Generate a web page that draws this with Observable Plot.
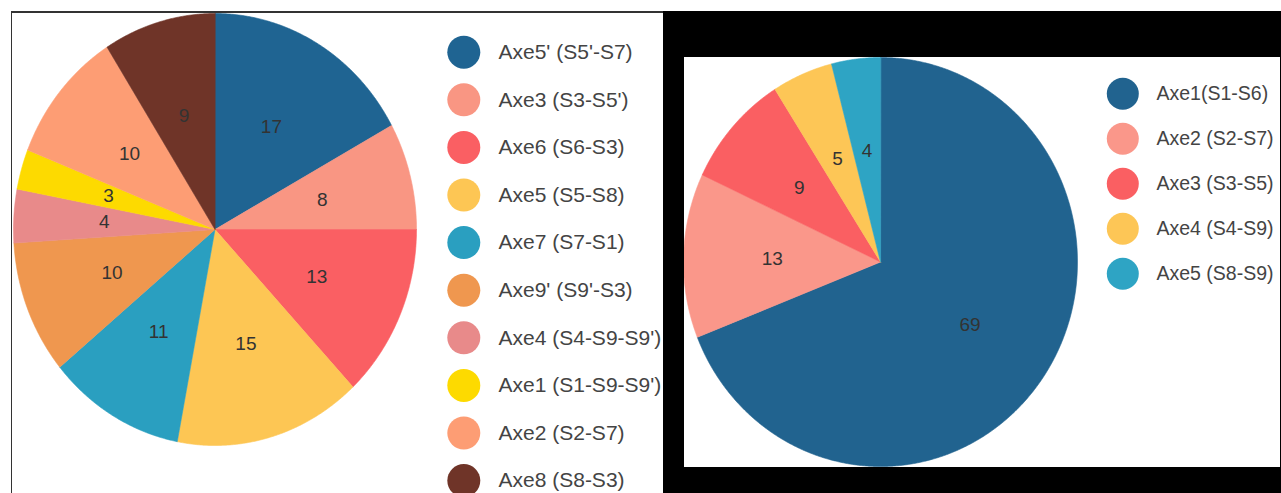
<!DOCTYPE html>
<html>
<head>
<meta charset="utf-8">
<script src="https://cdn.jsdelivr.net/npm/d3@7"></script>
<script src="https://cdn.jsdelivr.net/npm/@observablehq/plot@0.6"></script>
<style>
  html, body { margin: 0; padding: 0; background: #fff; }
  #root { position: relative; width: 1281px; height: 493px; background: #fff; overflow: hidden; font-family: "Liberation Sans", Arial, sans-serif; }
  #left { position: absolute; left: 11px; top: 12px; width: 652px; height: 481px; overflow: hidden; background: #fff; }
  #lborder-top { position: absolute; left: 11px; top: 11px; width: 652px; height: 1.5px; background: #333; }
  #lborder-left { position: absolute; left: 10.5px; top: 11px; width: 1.5px; height: 482px; background: #333; }
  #black { position: absolute; left: 663px; top: 11px; width: 618px; height: 482px; background: #000; }
  #right { position: absolute; left: 21px; top: 46px; width: 596px; height: 410px; overflow: hidden; background: #fff; }
  svg { display: block; }
</style>
</head>
<body>
<div id="root">
  <div id="left"></div>
  <div id="lborder-top"></div>
  <div id="lborder-left"></div>
  <div id="black"><div id="right"></div></div>
</div>
<script>
// ---- Left chart data ----
const leftNames = ["Axe5' (S5'-S7)", "Axe3 (S3-S5')", "Axe6 (S6-S3)", "Axe5 (S5-S8)", "Axe7 (S7-S1)", "Axe9' (S9'-S3)", "Axe4 (S4-S9-S9')", "Axe1 (S1-S9-S9')", "Axe2 (S2-S7)", "Axe8 (S8-S3)"];
const leftValues = [17, 8, 13, 15, 11, 10, 4, 3, 10, 9];
const leftColors = ["#1f6492", "#f99683", "#fa5f63", "#fdc654", "#2a9fc0", "#ef974f", "#e88a8a", "#fdda00", "#fd9d74", "#6f3428"];

// ---- Right chart data ----
const rightNames = ["Axe1(S1-S6)", "Axe2 (S2-S7)", "Axe3 (S3-S5)", "Axe4 (S4-S9)", "Axe5 (S8-S9)"];
const rightValues = [69, 13, 9, 5, 4];
const rightColors = ["#21638f", "#fa978a", "#fa5f62", "#fdc656", "#2ea4c4"];

function slices(names, values) {
  const arcs = d3.pie().sort(null).value((d, i) => values[i])(names);
  const pts = [];
  const labels = [];
  arcs.forEach((a, i) => {
    const name = names[i];
    pts.push({name, x: 0, y: 0});
    const n = Math.max(2, Math.ceil((a.endAngle - a.startAngle) / 0.005));
    for (let k = 0; k <= n; k++) {
      const t = a.startAngle + (a.endAngle - a.startAngle) * k / n;
      pts.push({name, x: Math.sin(t), y: Math.cos(t)});
    }
    const m = (a.startAngle + a.endAngle) / 2;
    labels.push({name, value: values[i], m});
  });
  return {pts, labels};
}

function pieChart({names, values, colors, width, height, cx, cy, rx, ry, labelR, legX, legY0, legDy, legR, textX, fontSize, letterSpacing, labelSize}) {
  const {pts, labels} = slices(names, values);
  const legend = names.map((name, i) => ({name, i}));
  return Plot.plot({
    width, height,
    margin: 0,
    style: {background: "transparent", overflow: "hidden"},
    x: {domain: [-1, 1], range: [cx - rx, cx + rx], axis: null},
    y: {domain: [-1, 1], range: [cy + ry, cy - ry], axis: null},
    color: {domain: names, range: colors},
    marks: [
      Plot.line(pts, {x: "x", y: "y", z: "name", fill: "name", stroke: "name", strokeWidth: 0.6, curve: "linear-closed"}),
      Plot.text(labels, {
        x: d => labelR * Math.sin(d.m), y: d => labelR * Math.cos(d.m),
        text: d => String(d.value), fill: "#333", fontSize: labelSize,
        fontFamily: "Liberation Sans, Arial, sans-serif", textAnchor: "middle", lineAnchor: "middle"
      }),
      // legend
      Plot.dot(legend, {
        x: () => legX, y: d => legY0 + legDy * d.i,
        fill: "name", r: legR, stroke: null
      }),
      Plot.text(legend, {
        x: () => textX, y: d => legY0 + legDy * d.i, text: "name",
        fill: "#444", fontSize, textAnchor: "start", lineAnchor: "middle",
        fontFamily: "Liberation Sans, Arial, sans-serif",
        style: letterSpacing ? `letter-spacing:${letterSpacing}px` : undefined
      })
    ]
  });
}

// Legend positions are expressed in chart data space via inverse of scales
function invX(px, cx, rx) { return (px - cx) / rx; }
function invY(py, cy, ry) { return (cy - py) / ry; }

// Left chart
(function () {
  const W = 652, H = 481, cx = 203.5, cy = 217, rx = 201.5, ry = 216;
  const legPx = 452.3, legPy0 = 39.7, legPdy = 47.6, textPx = 487;
  const chart = pieChart({
    names: leftNames, values: leftValues, colors: leftColors,
    width: W, height: H, cx, cy, rx, ry, labelR: 0.55,
    legX: invX(legPx, cx, rx), legY0: invY(legPy0, cy, ry), legDy: -legPdy / ry,
    legR: 16.5, textX: invX(textPx, cx, rx), fontSize: 21, letterSpacing: 0, labelSize: 19
  });
  document.getElementById("left").appendChild(chart);
})();

// Right chart
(function () {
  const W = 596, H = 410, cx = 196, cy = 204.5, rx = 197, ry = 204.5;
  const legPx = 438.3, legPy0 = 36.3, legPdy = 45, textPx = 472;
  const chart = pieChart({
    names: rightNames, values: rightValues, colors: rightColors,
    width: W, height: H, cx, cy, rx, ry, labelR: 0.55,
    legX: invX(legPx, cx, rx), legY0: invY(legPy0, cy, ry), legDy: -legPdy / ry,
    legR: 16, textX: invX(textPx, cx, rx), fontSize: 19.5, letterSpacing: 1.1, labelSize: 19
  });
  document.getElementById("right").appendChild(chart);
})();
</script>
</body>
</html>
